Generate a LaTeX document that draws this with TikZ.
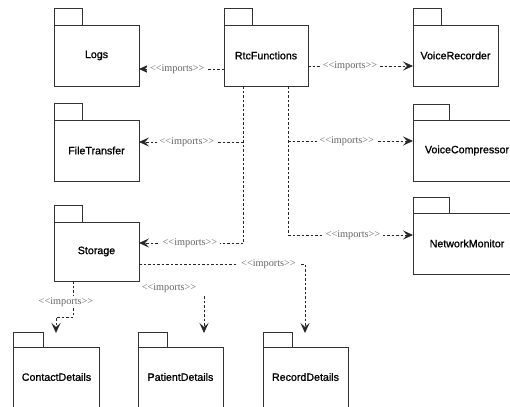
\documentclass[tikz,border=0pt]{standalone}
\usepackage{fontspec}
\usetikzlibrary{arrows.meta}
\newfontfamily\pkgfont{Liberation Sans}[FakeBold=1]
\newfontfamily\lblfont{Liberation Serif}
\tikzset{
  pkg/.style={draw=black!80, line width=1bp, inner sep=0pt, outer sep=0pt, fill=white,
    font=\pkgfont\fontsize{10.7}{12}\selectfont},
  tabbox/.style={draw=black!80, line width=1bp},
  dline/.style={draw=black!85, line width=0.8bp, dash pattern=on 2.5bp off 2bp},
  dep/.style={dline, -{Stealth[length=10bp,width=9bp,inset=4bp]}},
  lbl/.style={fill=white, inner xsep=3bp, inner ysep=1bp, text=black!60,
    font=\lblfont\fontsize{10.3}{12}\selectfont}
}
\begin{document}
\begin{tikzpicture}[x=1bp,y=-1bp]
\useasboundingbox (0,0) rectangle (510,406);
% packages
\node[pkg, minimum width=85bp, minimum height=61bp] (logs) at (96.5,55.5) {Logs};
\node[pkg, minimum width=84bp, minimum height=61bp] (rtc) at (266,55.5) {RtcFunctions};
\node[pkg, minimum width=85bp, minimum height=61bp] (vr) at (455.5,55.5) {VoiceRecorder};
\node[pkg, minimum width=85bp, minimum height=61bp] (ft) at (96.5,150.5) {FileTransfer};
\node[pkg, minimum width=108bp, minimum height=61bp] (vc) at (467,150.5) {VoiceCompressor};
\node[pkg, minimum width=85bp, minimum height=59bp] (st) at (96.5,251.5) {Storage};
\node[pkg, minimum width=108bp, minimum height=61bp] (nm) at (467,243.5) {NetworkMonitor};
\node[pkg, minimum width=85bp, minimum height=60bp] (cd) at (56.5,377) {ContactDetails};
\node[pkg, minimum width=85bp, minimum height=60bp] (pd) at (180.5,377) {PatientDetails};
\node[pkg, minimum width=85bp, minimum height=60bp] (rd) at (305.5,377) {RecordDetails};
% tabs
\foreach \n in {logs,rtc,vr,ft,st}
  \draw[tabbox] (\n.north west) rectangle ++(28,-17);
\foreach \n in {cd,pd,rd}
  \draw[tabbox] (\n.north west) rectangle ++(29,-15);
\foreach \n in {vc,nm}
  \draw[tabbox] (\n.north west) rectangle ++(36,-16);
% RtcFunctions -> Logs / VoiceRecorder
\draw[dep] (rtc.west |- 0,69) -- node[lbl,pos=0.55]{<<imports>>} (logs.east |- 0,69);
\draw[dep] (rtc.east |- 0,66) -- node[lbl,pos=0.4]{<<imports>>} (vr.west |- 0,66);
% right trunk
\coordinate (t1) at (288,235);
\coordinate (t1a) at (288,141);
\draw[dline] (rtc.south -| t1) -- (t1);
\draw[dep] (t1a) -- node[lbl,pos=0.47]{<<imports>>} (vc.west |- t1a);
\draw[dep] (t1) -- node[lbl,pos=0.52]{<<imports>>} (nm.west |- t1);
% left trunk
\coordinate (t2) at (243,243);
\coordinate (t2a) at (243,142);
\draw[dline] (rtc.south -| t2) -- (t2);
\draw[dep] (t2a) -- node[lbl,pos=0.54]{<<imports>>} (ft.east |- t2a);
\draw[dep] (t2) -- node[lbl,pos=0.51]{<<imports>>} (st.east |- t2);
% Storage -> ContactDetails
\coordinate (c5) at (73,317);
\coordinate (e5) at (56,333);
\draw[dep] (st.south -| c5) -- node[lbl,pos=0.58,xshift=-7bp]{<<imports>>} (c5) -| (e5);
% Storage -> PatientDetails
\coordinate (s6) at (204,296);
\coordinate (e6) at (204,333);
\node[lbl] (l6) at (169,288) {<<imports>>};
\draw[dep] (s6) -- (e6);
% Storage -> RecordDetails
\coordinate (c7) at (305,264);
\coordinate (e7) at (305,333);
\draw[dep] (st.east |- c7) -- node[lbl,pos=0.78]{<<imports>>} (c7) -- (e7);
\end{tikzpicture}
\end{document}
